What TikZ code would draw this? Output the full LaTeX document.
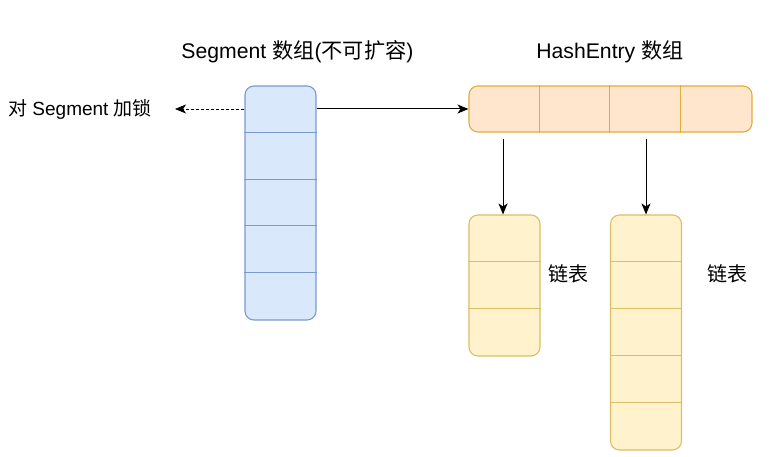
\documentclass[tikz,border=0pt]{standalone}
\usepackage{fontspec}
\setmainfont{Liberation Sans}
\newfontfamily\cjk{Noto Sans CJK SC}
\usetikzlibrary{arrows.meta}
\definecolor{segfill}{HTML}{DAE8FC}
\definecolor{segdraw}{HTML}{7C9BCC}
\definecolor{hashfill}{HTML}{FFE6CC}
\definecolor{hashdraw}{HTML}{E3AC3C}
\definecolor{listfill}{HTML}{FFF2CC}
\definecolor{listdraw}{HTML}{DDBE66}

\begin{document}
\begin{tikzpicture}[x=1pt,y=-1pt,
  cellbox/.style={rounded corners=9pt,line width=1.1pt,inner sep=0pt},
  segbox/.style={cellbox,fill=segfill,draw=segdraw,minimum width=71pt},
  hashbox/.style={cellbox,fill=hashfill,draw=hashdraw,minimum height=46pt},
  listbox/.style={cellbox,fill=listfill,draw=listdraw,minimum width=71pt},
  txt/.style={font=\fontsize{19}{22}\selectfont,inner sep=0pt},
  arr/.style={-{Stealth[length=11pt,width=9pt,inset=3pt]},line width=1pt}]
  \useasboundingbox[fill=white] (0,0) rectangle (770,457);

  % the two arrays
  \node[segbox,minimum height=234pt] (seg) at (280.5,203) {};
  \node[hashbox,minimum width=283pt] (hash) at (610.5,109) {};
  \foreach \k in {1,...,4}
    \draw[segdraw,line width=1pt] ([yshift=-\k*46.8pt]seg.north west) -- ([yshift=-\k*46.8pt]seg.north east);
  \foreach \k in {1,...,3}
    \draw[hashdraw,line width=1pt] ([xshift=\k*70.75pt]hash.north west) -- ([xshift=\k*70.75pt]hash.south west);

  % linked lists
  \node[listbox,minimum height=141pt] (list1) at (504.5,285.5) {};
  \node[listbox,minimum height=235pt] (list2) at (646,332.5) {};
  \foreach \k in {1,2}
    \draw[listdraw,line width=1pt] ([yshift=-\k*47pt]list1.north west) -- ([yshift=-\k*47pt]list1.north east);
  \foreach \k in {1,...,4}
    \draw[listdraw,line width=1pt] ([yshift=-\k*47pt]list2.north west) -- ([yshift=-\k*47pt]list2.north east);

  % texts
  \node[txt,font=\fontsize{21.2}{24}\selectfont] (segtitle) at (297.5,52) {Segment {\cjk 数组}({\cjk 不可扩容})};
  \node[txt,font=\fontsize{21.2}{24}\selectfont] (hashtitle) at (610,52) {HashEntry {\cjk 数组}};
  \node[txt,anchor=west] (lock) at (8,109) {{\cjk 对} Segment {\cjk 加锁}};
  \node[txt,font=\fontsize{20}{24}\selectfont] (name1) at (568,274) {\cjk 链表};
  \node[txt,font=\fontsize{20}{24}\selectfont] (name2) at (727.5,274) {\cjk 链表};
  \coordinate (lockend) at (175,109);

  % connectors
  \draw[arr] (seg.north east |- hash.west) -- (hash.west);
  \draw[arr,line width=0.8pt,dash pattern=on 3pt off 2pt] (seg.north west |- hash.west) -- (lockend);
  \draw[arr] (list1.north |- hash.south) ++(-1.5,6) -- ([xshift=-1.5pt]list1.north);
  \draw[arr] (list2.north |- hash.south) ++(0,6) -- (list2.north);
\end{tikzpicture}
\end{document}
